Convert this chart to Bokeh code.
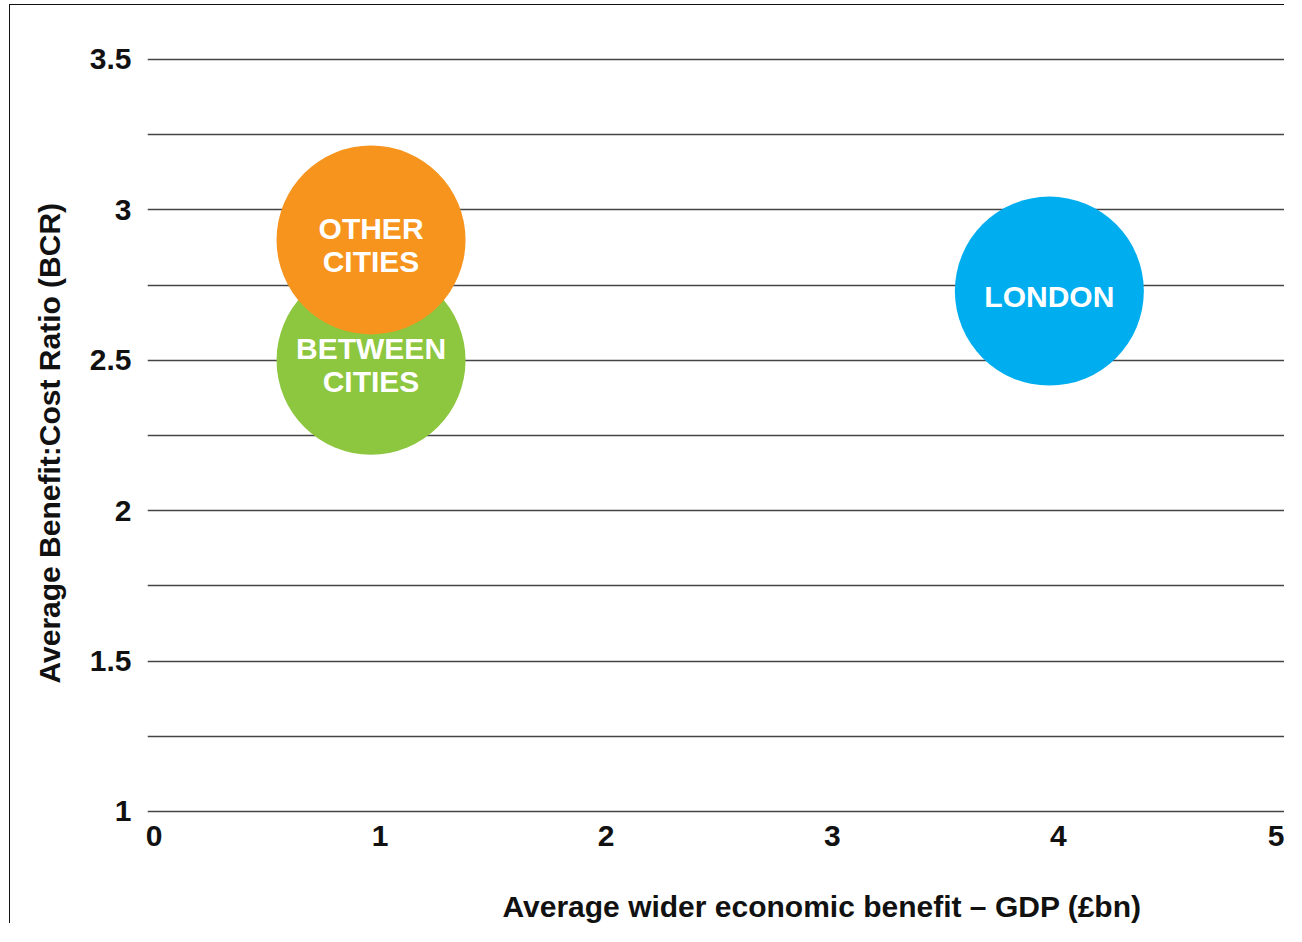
from bokeh.plotting import figure
from bokeh.models import ColumnDataSource, FixedTicker, Range1d, Title, NumeralTickFormatter
from bokeh.core.properties import value
from bokeh.embed import file_html
from bokeh.resources import INLINE

# ---- data ----
regions = ["BETWEEN\nCITIES", "OTHER\nCITIES", "LONDON"]
gdp_bn = [0.96, 0.96, 3.96]          # Average wider economic benefit - GDP (£bn)
bcr = [2.50, 2.90, 2.73]             # Average Benefit:Cost Ratio
colors = ["#8DC63F", "#F7941D", "#00AEEF"]
x_ticks = [0, 1, 2, 3, 4, 5]
y_ticks = [1, 1.5, 2, 2.5, 3, 3.5]
y_minor_grid = [1.25, 1.75, 2.25, 2.75, 3.25]
x_title = "Average wider economic benefit  \u2013 GDP (\u00a3bn)"
y_title = "Average Benefit:Cost Ratio (BCR)"

FONT = "Liberation Sans"

src = ColumnDataSource(dict(label=regions, gdp=gdp_bn, bcr=bcr, color=colors))

p = figure(width=1275, height=919, output_backend="svg", toolbar_location=None,
           x_range=Range1d(-0.0287, 5.0044), y_range=Range1d(0.99, 3.6795),
           min_border_left=134, min_border_right=0, min_border_top=0,
           min_border_bottom=110)
p.styles = {"border-left": "1px solid #111", "border-top": "1px solid #111",
            "margin-left": "9px", "margin-top": "4px"}
p.outline_line_color = None
p.background_fill_color = "white"
p.border_fill_color = "white"

# grid
p.xgrid.grid_line_color = None
p.ygrid.ticker = FixedTicker(ticks=y_ticks, minor_ticks=y_minor_grid)
p.ygrid.grid_line_color = "#444444"
p.ygrid.grid_line_width = 1.3
p.ygrid.minor_grid_line_color = "#444444"
p.ygrid.minor_grid_line_width = 1.3

# axes
for ax in (p.xaxis[0], p.yaxis[0]):
    ax.axis_line_color = None
    ax.major_tick_line_color = None
    ax.minor_tick_line_color = None
    ax.major_label_text_font = FONT
    ax.major_label_text_font_style = "bold"
    ax.major_label_text_font_size = "30px"
    ax.major_label_text_color = "#111111"
p.yaxis.axis_label = None
p.xaxis.ticker = FixedTicker(ticks=x_ticks)
p.yaxis.ticker = FixedTicker(ticks=y_ticks)
p.xaxis.formatter = NumeralTickFormatter(format="0.[0]")
p.yaxis.formatter = NumeralTickFormatter(format="0.[0]")
p.xaxis.major_label_standoff = 5
p.yaxis.major_label_standoff = 10
# blank spacer label between tick labels and the x title
p.xaxis.axis_label = "\u00a0"
p.xaxis.axis_label_text_font_size = "10px"
p.xaxis.axis_label_standoff = 25

# bubbles
p.scatter(x="gdp", y="bcr", source=src, size=189, fill_color="color", line_color=None)
p.text(x="gdp", y="bcr", text="label", source=src, text_color="white",
       text_font=value(FONT), text_font_style="bold", text_font_size="30px",
       text_align="center", text_baseline="middle", text_line_height=1.0, y_offset=5)

# axis titles
p.add_layout(Title(text=x_title, align="left", offset=355, standoff=0,
                   text_font=FONT, text_font_style="bold", text_font_size="30px",
                   text_color="#111111"), "below")
p.add_layout(Title(text=y_title, align="left", offset=131, standoff=41,
                   text_font=FONT, text_font_style="bold", text_font_size="30px",
                   text_color="#111111"), "left")

open("out.html", "w").write(file_html(p, INLINE))
